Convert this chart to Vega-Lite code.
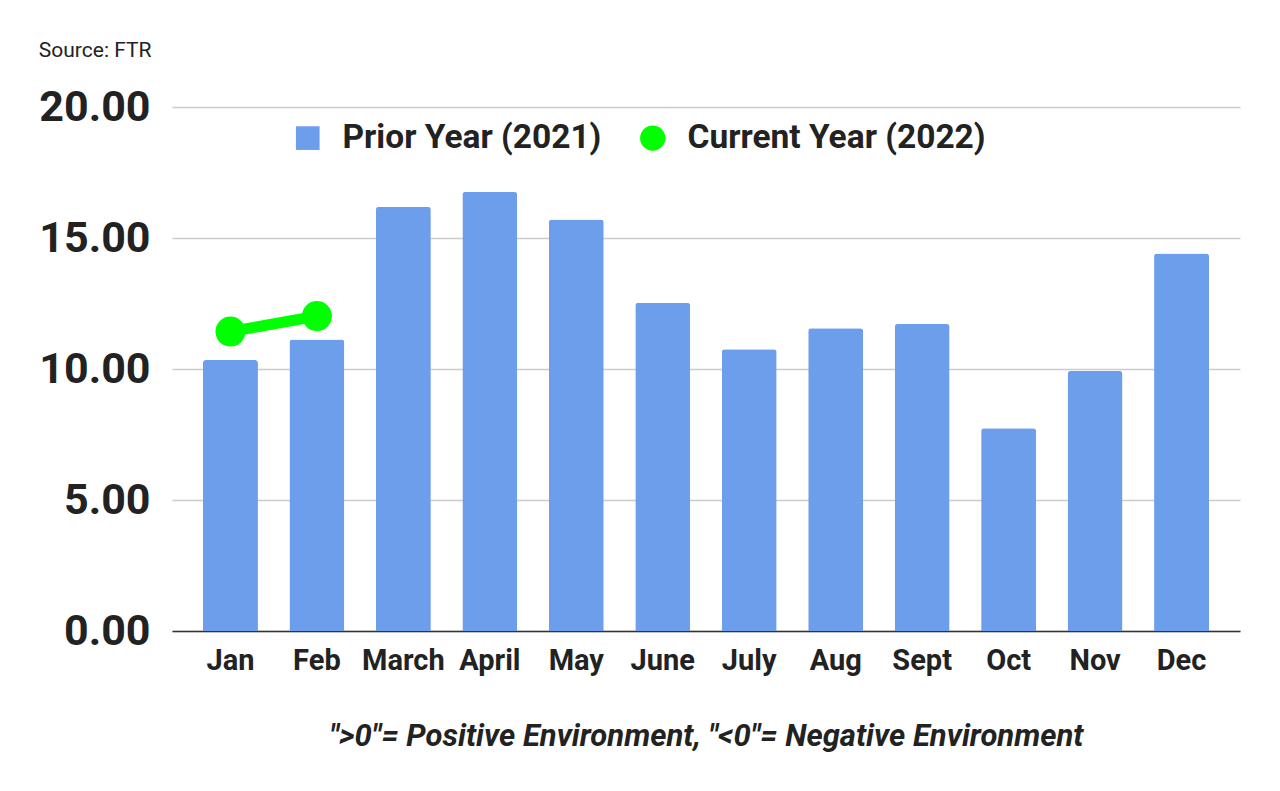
{
  "$schema": "https://vega.github.io/schema/vega-lite/v6.json",
  "autosize": "none",
  "padding": {"left": 172, "top": 107, "right": 40, "bottom": 160},
  "width": 1068,
  "height": 524,
  "background": "white",
  "config": {"view": {"stroke": null}},
  "title": {
    "text": "Source: FTR",
    "anchor": "start",
    "frame": "bounds",
    "font": "Roboto",
    "fontSize": 21,
    "fontWeight": "normal",
    "color": "#222222",
    "offset": 25
  },
  "data": {
    "values": [
      {"month": "Jan", "prior": 10.34, "current": 11.43},
      {"month": "Feb", "prior": 11.13, "current": 12.02},
      {"month": "March", "prior": 16.19, "current": null},
      {"month": "April", "prior": 16.76, "current": null},
      {"month": "May", "prior": 15.71, "current": null},
      {"month": "June", "prior": 12.53, "current": null},
      {"month": "July", "prior": 10.75, "current": null},
      {"month": "Aug", "prior": 11.56, "current": null},
      {"month": "Sept", "prior": 11.72, "current": null},
      {"month": "Oct", "prior": 7.74, "current": null},
      {"month": "Nov", "prior": 9.92, "current": null},
      {"month": "Dec", "prior": 14.41, "current": null}
    ]
  },
  "encoding": {
    "x": {
      "field": "month",
      "type": "nominal",
      "sort": null,
      "scale": {"paddingInner": 0.364, "paddingOuter": 0.358},
      "axis": {
        "title": "\">0\"= Positive Environment, \"<0\"= Negative Environment",
        "titleFont": "Roboto",
        "titleFontSize": 31,
        "titleFontWeight": "bold",
        "titleFontStyle": "italic",
        "titleColor": "#222222",
        "titlePadding": 46,
        "labelFont": "Roboto",
        "labelFontSize": 29,
        "labelFontWeight": "bold",
        "labelColor": "#222222",
        "labelAngle": 0,
        "labelPadding": 15,
        "ticks": false,
        "domainColor": "#333333",
        "domainWidth": 1.5,
        "grid": false
      }
    }
  },
  "layer": [
    {
      "mark": {"type": "bar", "cornerRadiusTopLeft": 3, "cornerRadiusTopRight": 3},
      "encoding": {
        "y": {
          "field": "prior",
          "type": "quantitative",
          "scale": {"domain": [0, 20], "nice": false},
          "axis": {
            "title": null,
            "values": [0, 5, 10, 15, 20],
            "format": ".2f",
            "labelFont": "Roboto",
            "labelFontSize": 43,
            "labelFontWeight": "bold",
            "labelColor": "#222222",
            "labelPadding": 22,
            "ticks": false,
            "domain": false,
            "gridColor": "#cccccc",
            "gridWidth": 1.5
          }
        },
        "color": {
          "datum": "Prior Year (2021)",
          "scale": {
            "domain": ["Prior Year (2021)", "Current Year (2022)"],
            "range": ["#6d9eeb", "#00ff00"]
          },
          "legend": {
            "title": null,
            "orient": "none",
            "legendX": 119,
            "legendY": 14,
            "direction": "horizontal",
            "labelFont": "Roboto",
            "labelFontSize": 33.5,
            "labelFontWeight": "bold",
            "labelColor": "#222222",
            "labelLimit": 400,
            "symbolSize": 600,
            "symbolStrokeWidth": 0,
            "columnPadding": 34,
            "labelOffset": 18,
            "encode": {
              "symbols": {
                "update": {
                  "shape": {"signal": "datum.label === 'Prior Year (2021)' ? 'square' : 'circle'"},
                  "size": {"signal": "datum.label === 'Prior Year (2021)' ? 560 : 640"},
                  "opacity": {"value": 1}
                }
              }
            }
          }
        }
      }
    },
    {
      "transform": [{"filter": "datum.current != null"}],
      "mark": {"type": "line", "color": "#00ff00", "strokeWidth": 11},
      "encoding": {
        "y": {"field": "current", "type": "quantitative"}
      }
    },
    {
      "transform": [{"filter": "datum.current != null"}],
      "mark": {"type": "point", "filled": true, "size": 900, "opacity": 1},
      "encoding": {
        "y": {"field": "current", "type": "quantitative"},
        "color": {"datum": "Current Year (2022)"}
      }
    }
  ]
}
